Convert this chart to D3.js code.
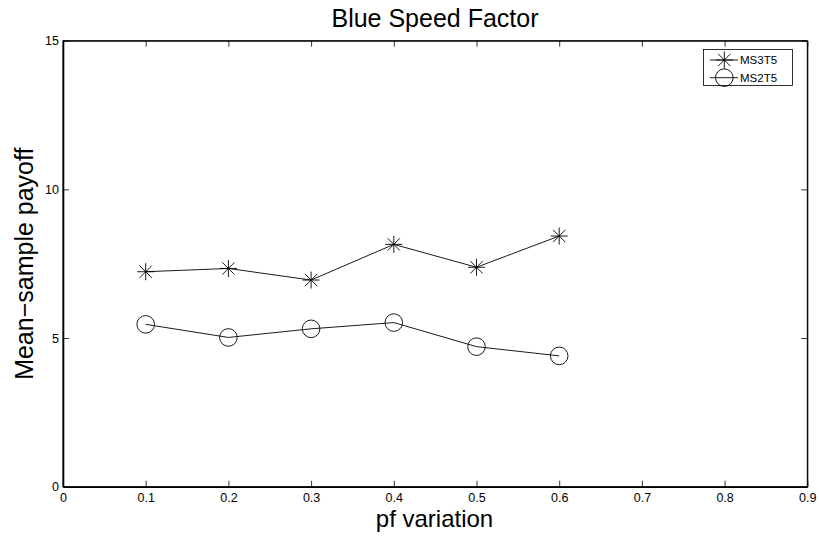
<!DOCTYPE html>
<html>
<head>
<meta charset="utf-8">
<script src="https://cdn.jsdelivr.net/npm/d3@7"></script>
<style>
  html, body { margin: 0; padding: 0; background: #fff; }
  svg { display: block; font-family: "Liberation Sans", Arial, Helvetica, sans-serif; }
</style>
</head>
<body>
<svg id="chart" width="819" height="538"></svg>
<script>
// pf variation levels and the mean-sample payoff of each configuration
const pfVariation = [0.1, 0.2, 0.3, 0.4, 0.5, 0.6];
const ms3t5 = [7.23, 7.34, 6.95, 8.15, 7.38, 8.43];
const ms2t5 = [5.46, 5.02, 5.31, 5.52, 4.71, 4.40];
const xTicks = [0, 0.1, 0.2, 0.3, 0.4, 0.5, 0.6, 0.7, 0.8, 0.9];
const yTicks = [0, 5, 10, 15];
const seriesNames = ["MS3T5", "MS2T5"];

const svg = d3.select("#chart");
const plotLeft = 63, plotRight = 807.3, plotTop = 40.7, plotBottom = 486.7;

const x = d3.scaleLinear().domain([0, 0.9]).range([plotLeft, plotRight]);
const y = d3.scaleLinear().domain([0, 15]).range([plotBottom, plotTop]);

// plot frame
svg.append("rect")
  .attr("x", plotLeft).attr("y", plotTop)
  .attr("width", plotRight - plotLeft).attr("height", plotBottom - plotTop)
  .attr("fill", "#fff").attr("stroke", "#000").attr("stroke-width", 1);

const tickLen = 6;
const tickFont = 12.5;
const fmtX = d => d === 0 ? "0" : d3.format(".1f")(d);

// bottom axis with inward ticks
const xAxisB = d3.axisBottom(x).tickValues(xTicks).tickFormat(fmtX)
  .tickSizeInner(-tickLen).tickSizeOuter(0).tickPadding(6.5);
const gxb = svg.append("g").attr("transform", `translate(0,${plotBottom})`).call(xAxisB);
// top axis (ticks only)
const xAxisT = d3.axisTop(x).tickValues(xTicks).tickFormat("")
  .tickSizeInner(-tickLen).tickSizeOuter(0);
const gxt = svg.append("g").attr("transform", `translate(0,${plotTop})`).call(xAxisT);
// left axis
const yAxisL = d3.axisLeft(y).tickValues(yTicks).tickFormat(d3.format("d"))
  .tickSizeInner(-tickLen).tickSizeOuter(0).tickPadding(4);
const gyl = svg.append("g").attr("transform", `translate(${plotLeft},0)`).call(yAxisL);
// right axis (ticks only)
const yAxisR = d3.axisRight(y).tickValues(yTicks).tickFormat("")
  .tickSizeInner(-tickLen).tickSizeOuter(0);
const gyr = svg.append("g").attr("transform", `translate(${plotRight},0)`).call(yAxisR);

[gxb, gxt, gyl, gyr].forEach(g => {
  g.select(".domain").attr("stroke", "#000").attr("stroke-width", 1.6);
  g.selectAll(".tick line").attr("stroke", "#000").attr("stroke-width", 0.8);
  g.selectAll(".tick text").attr("fill", "#000").attr("font-size", tickFont)
    .attr("font-family", "Liberation Sans, Arial, sans-serif");
});
gxt.select(".domain").attr("stroke-width", 1);
gyr.select(".domain").attr("stroke-width", 1);

// titles
svg.append("text").attr("x", 435).attr("y", 27.3)
  .attr("text-anchor", "middle").attr("font-size", 25).text("Blue Speed Factor");
svg.append("text").attr("x", 434.5).attr("y", 527)
  .attr("text-anchor", "middle").attr("font-size", 24).text("pf variation");
svg.append("text")
  .attr("transform", `translate(32.5,${(plotTop + plotBottom) / 2}) rotate(-90)`)
  .attr("text-anchor", "middle").attr("font-size", 25).text("Mean\u2212sample payoff");

// marker shapes
function starPath(r) {
  const d = r * 0.72;
  return `M${-r},0L${r},0M0,${-r}L0,${r}M${-d},${-d}L${d},${d}M${-d},${d}L${d},${-d}`;
}
function drawMarker(g, kind, cx, cy) {
  if (kind === "star") {
    g.append("path").attr("d", starPath(8.5))
      .attr("transform", `translate(${cx},${cy})`)
      .attr("fill", "none").attr("stroke", "#000").attr("stroke-width", 0.9);
  } else {
    g.append("circle").attr("cx", cx).attr("cy", cy).attr("r", 8.8)
      .attr("fill", "none").attr("stroke", "#000").attr("stroke-width", 0.9);
  }
}

const series = [
  { name: seriesNames[0], values: ms3t5, kind: "star" },
  { name: seriesNames[1], values: ms2t5, kind: "circle" }
];

const line = d3.line().x(d => x(d[0])).y(d => y(d[1]));
const plot = svg.append("g");
series.forEach(s => {
  const pts = pfVariation.map((p, i) => [p, s.values[i]]);
  plot.append("path").attr("d", line(pts))
    .attr("fill", "none").attr("stroke", "#000").attr("stroke-width", 0.9);
  pts.forEach(p => drawMarker(plot, s.kind, x(p[0]), y(p[1])));
});

// legend
const lg = svg.append("g");
lg.append("rect").attr("x", 703.5).attr("y", 49.5).attr("width", 89).attr("height", 36)
  .attr("fill", "#fff").attr("stroke", "#000").attr("stroke-width", 0.8);
series.forEach((s, i) => {
  const ly = 60 + i * 17.7;
  lg.append("line").attr("x1", 710).attr("x2", 738).attr("y1", ly).attr("y2", ly)
    .attr("stroke", "#000").attr("stroke-width", 0.9);
  drawMarker(lg, s.kind, 724.3, ly);
  lg.append("text").attr("x", 740).attr("y", ly + 4.2).attr("font-size", 11.5).text(s.name);
});
</script>
</body>
</html>
